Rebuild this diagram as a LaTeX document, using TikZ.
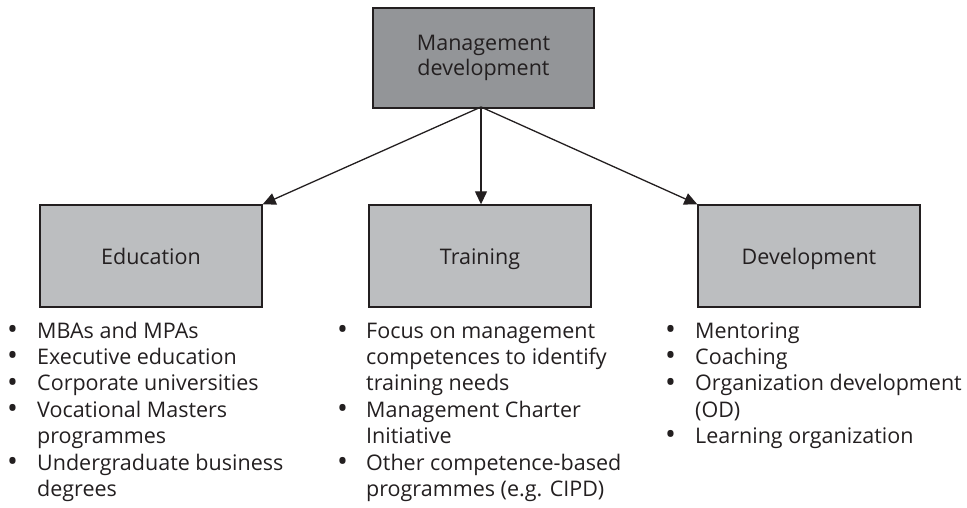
\documentclass[tikz,border=0pt]{standalone}
\usepackage{fontspec}
\setmainfont{Open Sans}
\usepackage{array}
\usetikzlibrary{arrows.meta}
\definecolor{topfill}{HTML}{939598}
\definecolor{boxfill}{HTML}{BCBEC0}
\definecolor{ink}{HTML}{231F20}
\newcommand\blt{\raisebox{-1.2pt}{\fontsize{29}{26}\selectfont\textbullet}}
\tikzset{
  topbox/.style={draw=ink, fill=topfill, line width=1.4pt, minimum width=221pt, minimum height=100pt, inner sep=0pt, align=center, text=ink},
  subbox/.style={draw=ink, fill=boxfill, line width=1.4pt, minimum width=222pt, minimum height=102pt, inner sep=0pt, text=ink, text height=16pt, text depth=0pt},
  link/.style={draw=ink, line width=1.3pt, -{Triangle[length=13pt,width=12pt]}},
  blist/.style={anchor=base west, inner sep=0pt, text=ink, font=\fontsize{21.5}{26.4}\selectfont}
}
\begin{document}
\begin{tikzpicture}[x=1pt,y=-1pt, every node/.style={font=\fontsize{21.5}{24.5}\selectfont}]
\useasboundingbox (0,0) rectangle (967,507);
\node[topbox] (md) at (483.5,58) {Management\\development};
\node[subbox] (edu) at (151,256) {Education};
\node[subbox] (tra) at (480,256) {Training};
\node[subbox] (dev) at (809,256) {Development};
\coordinate (apex) at (481,107);
\draw[link] (apex) -- (edu.north east);
\draw[link] (apex) -- (apex |- tra.north);
\draw[link] (apex) -- (dev.north west);
\node[blist] (l1) at (7,338) {\begin{tabular}[t]{@{}p{30pt}@{}l@{}}
\blt & MBAs and MPAs\\
\blt & Executive education\\
\blt & Corporate universities\\
\blt & Vocational Masters\\
 & programmes\\
\blt & Undergraduate business\\
 & degrees
\end{tabular}};
\node[blist] (l2) at (337,338) {\begin{tabular}[t]{@{}p{29pt}@{}l@{}}
\blt & Focus on management\\
 & competences to identify\\
 & training needs\\
\blt & Management Charter\\
 & Initiative\\
\blt & Other competence-based\\
 & programmes (e.g. CIPD)
\end{tabular}};
\node[blist] (l3) at (665,338) {\begin{tabular}[t]{@{}p{30pt}@{}l@{}}
\blt & Mentoring\\
\blt & Coaching\\
\blt & Organization development\\
 & (OD)\\
\blt & Learning organization
\end{tabular}};
\end{tikzpicture}
\end{document}
